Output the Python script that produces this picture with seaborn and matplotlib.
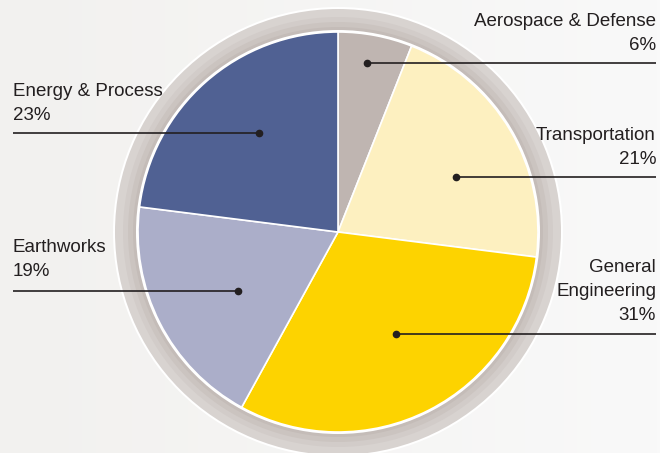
import numpy as np
import matplotlib
matplotlib.use("Agg")
import matplotlib.pyplot as plt
import seaborn as sns
from matplotlib.patches import Circle

sectors = ["Aerospace & Defense", "Transportation", "General\nEngineering", "Earthworks", "Energy & Process"]
shares = [6, 21, 31, 19, 23]
colors = ["#bfb5b1", "#fdf0c0", "#fdd300", "#abaec9", "#506193"]

sns.set_theme(style="white")
plt.rcParams['font.family'] = ['Liberation Sans Narrow', 'Liberation Sans', 'DejaVu Sans']

W, H = 660, 453
fig = plt.figure(figsize=(6.6, 4.53), dpi=100)
ax = fig.add_axes([0, 0, 1, 1])
ax.set_xlim(0, W)
ax.set_ylim(0, H)
ax.set_aspect('equal')
ax.axis('off')

# background, slight left-to-right gradient
grad = np.linspace(0, 1, 200)[None, :]
bg = matplotlib.colors.LinearSegmentedColormap.from_list("bg", ["#f2f1ef", "#f9f9f9"])
ax.imshow(grad, extent=[0, W, 0, H], cmap=bg, aspect='auto', zorder=0)

cx, cy, r = 338, H - 232, 200

# grey ring round the pie
ax.add_patch(Circle((cx, cy), 225, facecolor="white", edgecolor="none", zorder=1))
ax.add_patch(Circle((cx, cy), 223, facecolor="#d8d3d0", edgecolor="none", zorder=1))
for i, c in enumerate(["#d2ccc9", "#cbc4c0", "#c4bcb8"]):
    ax.add_patch(Circle((cx, cy), 215 - i * 5, facecolor=c, edgecolor="none", zorder=1))
ax.add_patch(Circle((cx, cy), r + 2, facecolor="white", edgecolor="none", zorder=1))

wedges, _ = ax.pie(shares, colors=colors, startangle=90, counterclock=False,
                   center=(cx, cy), radius=r, frame=True,
                   wedgeprops=dict(edgecolor="white", linewidth=1.2))
for w in wedges:
    w.set_zorder(2)
ax.set_xlim(0, W)
ax.set_ylim(0, H)
ax.axis('off')

# labels: (dot x, dot y, line end x, text lines y, alignment)
label_x = [656, 656, 656, 13, 13]
dot_pos = [(367, 63), (456, 177), (396, 334), (238, 291), (259, 133)]
text_y = [[22], [136], [268, 292], [248], [92]]
for name, v, lx, (dx, dy), ty in zip(sectors, shares, label_x, dot_pos, text_y):
    lines = name.split("\n") + [f"{v}%"]
    ys = ty + [ty[-1] + 24]
    if len(lines) == 3:
        ys = [ty[0], ty[1], ty[1] + 24]
    ha = "right" if lx > cx else "left"
    for t, yy in zip(lines, ys):
        ax.text(lx, H - yy, t, ha=ha, va="center", fontsize=13.5, color="#231f20", zorder=4)
    ax.plot([lx, dx], [H - dy, H - dy], color="#231f20", lw=1.2, zorder=3, solid_capstyle="butt")
    ax.plot(dx, H - dy, "o", color="#231f20", ms=4.5, zorder=3)

fig.savefig("out.png", dpi=100)
